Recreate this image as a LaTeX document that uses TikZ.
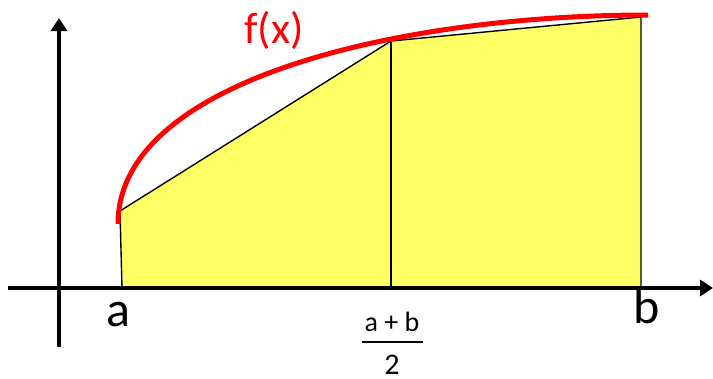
\documentclass[tikz,border=0pt]{standalone}
\usepackage{fontspec}
\setmainfont{Carlito}
\usetikzlibrary{arrows.meta}
\definecolor{trapyellow}{RGB}{255,255,102}
\begin{document}
\begin{tikzpicture}[x=1pt,y=-1pt,
  axis/.style={line width=4.5pt,-{Triangle[width=16pt,length=13pt]}},
  edge/.style={line width=1.4pt},
  curve/.style={line width=5pt,red},
  lbl/.style={inner sep=0pt,anchor=base,font=\fontsize{50}{60}\selectfont}]
\useasboundingbox (0,0) rectangle (713,378);
% named corners
\coordinate (A0) at (122,288);
\coordinate (A1) at (120,211);
\coordinate (M0) at (391,288);
\coordinate (M1) at (391,41);
\coordinate (B1) at (641,17);
\coordinate (B0) at (641,288);
\coordinate (Cs) at (118,224);
\coordinate (Ce) at (648,15);
\coordinate (Xs) at (8,288);
\coordinate (Xe) at (713,288);
\coordinate (Ys) at (59,347);
\coordinate (Ye) at (59,18);
% trapezoids
\filldraw[fill=trapyellow,edge] (A0) -- (A1) -- (M1) -- (B1) -- (B0) -- cycle;
\draw[edge] (M0) -- (M1);
% function
\draw[curve] (Cs) .. controls (118,80) and (400,15) .. (Ce);
\node[inner sep=0pt,anchor=base,red,font=\fontsize{44}{52}\selectfont] (fx) at (274,43) {f(x)};
% axes
\draw[axis] (Xs) -- (Xe);
\draw[axis] (Ys) -- (Ye);
% labels
\node[lbl] (la) at (118,326) {a};
\node[lbl] (lb) at (647,323) {b};
\node[inner sep=0pt,anchor=base] (lm) at (392,342) {%
  \makebox[0pt]{\raisebox{10.5pt}{\fontsize{28}{34}\selectfont a + b}}%
  \makebox[0pt]{\rule[-0.8pt]{61pt}{1.6pt}}%
  \makebox[0pt]{\raisebox{-32pt}{\fontsize{30}{36}\selectfont 2}}};
\end{tikzpicture}
\end{document}
